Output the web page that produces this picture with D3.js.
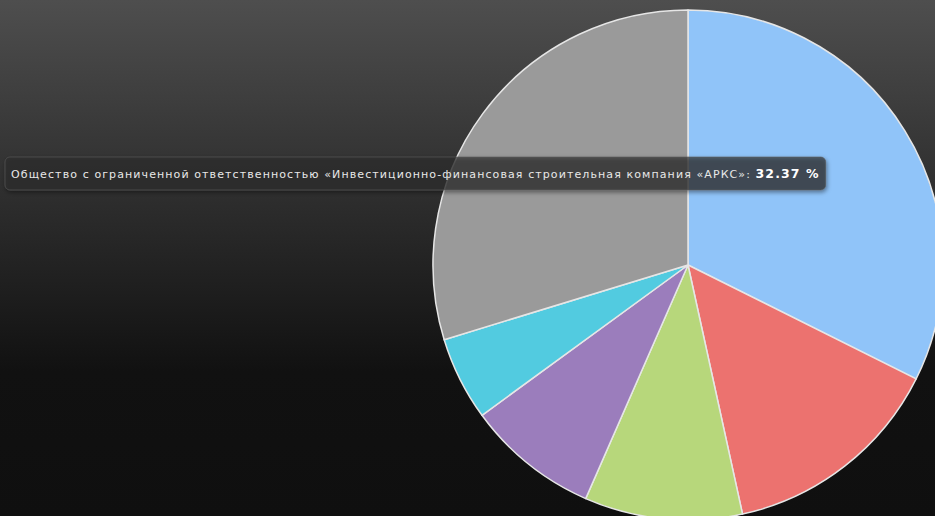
<!DOCTYPE html>
<html>
<head>
<meta charset="utf-8">
<script src="https://cdn.jsdelivr.net/npm/d3@7"></script>
<style>
  html, body { margin: 0; padding: 0; background: #111; }
  svg { display: block; }
</style>
</head>
<body>
<div id="chart"></div>
<script>
const width = 935;
const height = 516;

// slice shares, clockwise from 12 o'clock
const names = [
  "Общество с ограниченной ответственностью «Инвестиционно-финансовая строительная компания «АРКС»",
  "Прочие 1", "Прочие 2", "Прочие 3", "Прочие 4", "Прочие 5"
];
const values = [32.37, 14.2, 10.0, 8.4, 5.3, 29.73];
const colors = ["#90c4f9", "#ec726f", "#b7d77b", "#9b7dbc", "#52cbe0", "#9a9a9a"];

const svg = d3.select("#chart")
  .append("svg")
  .attr("width", width)
  .attr("height", height);

const defs = svg.append("defs");
const bg = defs.append("linearGradient")
  .attr("id", "bg")
  .attr("x1", 0).attr("y1", 0).attr("x2", 0).attr("y2", 1);
bg.append("stop").attr("offset", "0%").attr("stop-color", "#4e4e4e");
bg.append("stop").attr("offset", "72%").attr("stop-color", "#111111");
bg.append("stop").attr("offset", "100%").attr("stop-color", "#0f0f0f");

const shadow = defs.append("filter").attr("id", "shadow")
  .attr("x", "-5%").attr("y", "-50%").attr("width", "110%").attr("height", "200%");
shadow.append("feDropShadow")
  .attr("dx", 1).attr("dy", 2).attr("stdDeviation", 2)
  .attr("flood-color", "#000").attr("flood-opacity", 0.6);

svg.append("rect")
  .attr("width", width)
  .attr("height", height)
  .attr("fill", "url(#bg)");

const cx = 688;
const cy = 265;
const radius = 255;

const pie = d3.pie().sort(null).value(d => d);
const arc = d3.arc().innerRadius(0).outerRadius(radius);

svg.append("g")
  .attr("transform", `translate(${cx},${cy})`)
  .selectAll("path")
  .data(pie(values))
  .join("path")
  .attr("d", arc)
  .attr("fill", (d, i) => colors[i])
  .attr("stroke", "#e6e6e6")
  .attr("stroke-width", 1.5)
  .attr("stroke-linejoin", "round");

// tooltip for the first slice
const tip = svg.append("g");
const tipBox = tip.append("rect")
  .attr("x", 5).attr("y", 157)
  .attr("height", 33)
  .attr("rx", 5)
  .attr("fill", "rgba(45,45,45,0.68)")
  .attr("stroke", "rgba(90,90,90,0.6)")
  .attr("filter", "url(#shadow)");

const tipText = tip.append("text")
  .attr("x", 11).attr("y", 178)
  .attr("fill", "#e8e8e8")
  .style("font-family", "'DejaVu Sans', Verdana, sans-serif")
  .style("font-size", "11px")
  .style("letter-spacing", "1.1px");
tipText.append("tspan").text(names[0] + ": ");
tipText.append("tspan")
  .attr("font-weight", "bold")
  .style("font-size", "12.5px")
  .attr("fill", "#ffffff")
  .text(d3.format(".2f")(values[0]) + " %");

const tw = tipText.node().getComputedTextLength();
tipBox.attr("width", tw + 12);
</script>
</body>
</html>
